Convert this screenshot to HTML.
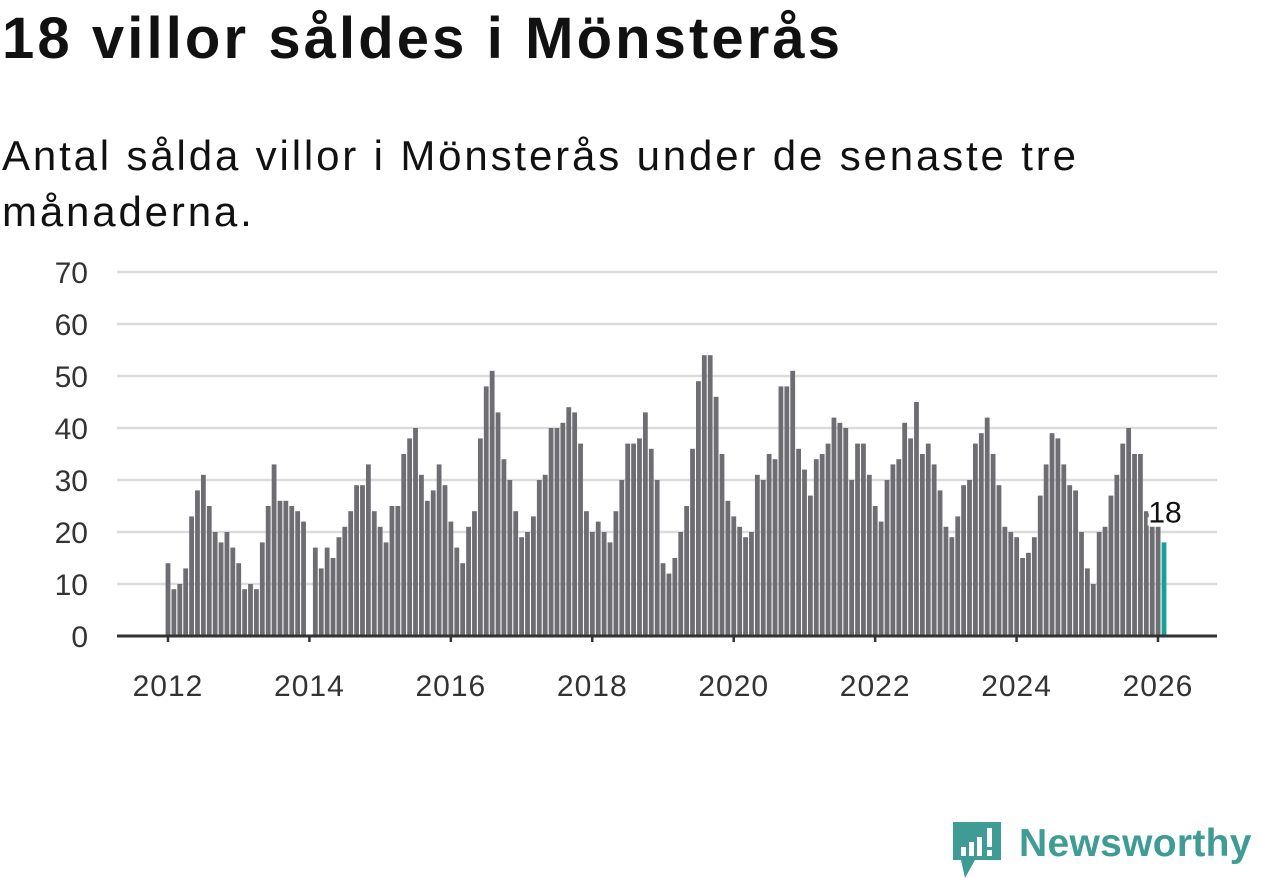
<!DOCTYPE html>
<html><head><meta charset="utf-8">
<style>
html,body{margin:0;padding:0;background:#fff;width:1262px;height:879px;overflow:hidden;font-family:"Liberation Sans",sans-serif;}
#title{position:absolute;left:2px;top:5px;font-size:58px;font-weight:bold;color:#111;margin:0;letter-spacing:3.1px;white-space:nowrap}
#sub{position:absolute;left:2px;top:128px;font-size:42px;line-height:56px;color:#111;width:1250px;letter-spacing:2.85px;white-space:nowrap}
svg{position:absolute;left:0;top:0}
</style></head><body>
<h1 id="title">18 villor såldes i Mönsterås</h1>
<div id="sub">Antal sålda villor i Mönsterås under de senaste tre<br>månaderna.</div>
<svg id="chart" width="1262" height="879"></svg>
<div style="position:absolute;left:951px;top:820px;width:310px;height:58px">
  <svg width="52" height="58" style="position:absolute;left:0;top:0">
    <path d="M2 2 H50 V40 H24 L14 58 L10 40 H2 Z" fill="#3e9c94"/>
    <rect x="10" y="27" width="5" height="9" fill="#fff"/><rect x="18" y="22" width="5" height="14" fill="#fff"/><rect x="26" y="17" width="5" height="19" fill="#fff"/><rect x="36" y="8" width="5" height="19" fill="#fff"/><rect x="36" y="30" width="5" height="6" fill="#fff"/>
  </svg>
  <span style="position:absolute;left:68px;top:2px;font-size:39px;font-weight:bold;color:#3e9c94;letter-spacing:0.3px">Newsworthy</span>
</div>
<script>
const yTicks=[0,10,20,30,40,50,60,70];
const xTickLabels=["2012","2014","2016","2018","2020","2022","2024","2026"];
const values=[14,9,10,13,23,28,31,25,20,18,20,17,14,9,10,9,18,25,33,26,26,25,24,22,
null,
17,13,17,15,19,21,24,29,29,33,24,21,18,25,25,35,38,40,31,26,28,33,29,22,17,14,21,24,38,48,51,43,34,30,24,
19,20,23,30,31,40,40,41,44,43,37,24,20,22,20,18,24,30,37,37,38,43,36,30,14,12,15,20,25,36,49,54,54,46,35,26,23,21,19,20,31,30,35,34,48,48,51,36,32,27,34,35,37,42,41,40,
30,37,37,31,25,22,30,33,34,41,38,45,35,37,33,28,21,19,23,29,30,37,39,42,35,29,21,20,19,15,16,19,27,33,39,38,33,29,28,20,13,10,20,21,27,31,37,40,35,35,24,21,21,18];
const NS="http://www.w3.org/2000/svg";
const svg=document.getElementById('chart');
const y0=636, pxPer=5.2, xStart=168, xEnd=1164;
const yScale=v=>y0-v*pxPer;
const step=(xEnd-xStart)/(values.length-1);
const xIdx=i=>xStart+i*step;
const yearX=k=>168+k*(990/14);
function mk(t,a){const e=document.createElementNS(NS,t);for(const k in a)e.setAttribute(k,a[k]);svg.appendChild(e);return e;}
yTicks.forEach(t=>{
  const g=mk('line',{x1:117,x2:1217,y1:yScale(t),y2:yScale(t),stroke:'#dcdcdc','stroke-width':2.5});
  
  
  const l=mk('text',{x:88,y:yScale(t)+11,'text-anchor':'end','font-size':30,fill:'#333'});
  l.textContent=t;
  
  
});
values.forEach((v,i)=>{
  if(v==null) return;
  const last=i===values.length-1;
  const r=mk('rect',{x:xIdx(i)-2.4,y:yScale(v),width:4.8,height:v*pxPer,fill:last?'#17a196':'#6e6d72'});
  
  
});
const ax=mk('line',{x1:117,x2:1217,y1:y0,y2:y0,stroke:'#333','stroke-width':3});


xTickLabels.forEach((lab,k)=>{
  const x=yearX(2*k);
  const tk=mk('line',{x1:x,x2:x,y1:y0,y2:y0+6,stroke:'#333','stroke-width':2.5});
  
  
  const t=mk('text',{x:x,y:696,'text-anchor':'middle','font-size':30,fill:'#333','letter-spacing':1});
  t.textContent=lab;
  
  
});
const lv=values[values.length-1];
const lbl=mk('text',{x:xIdx(values.length-1)+1,y:yScale(lv)-20,'text-anchor':'middle','font-size':30,fill:'#111',stroke:'#fff','stroke-width':6,'paint-order':'stroke'});
lbl.textContent=lv;


</script>
</body></html>
